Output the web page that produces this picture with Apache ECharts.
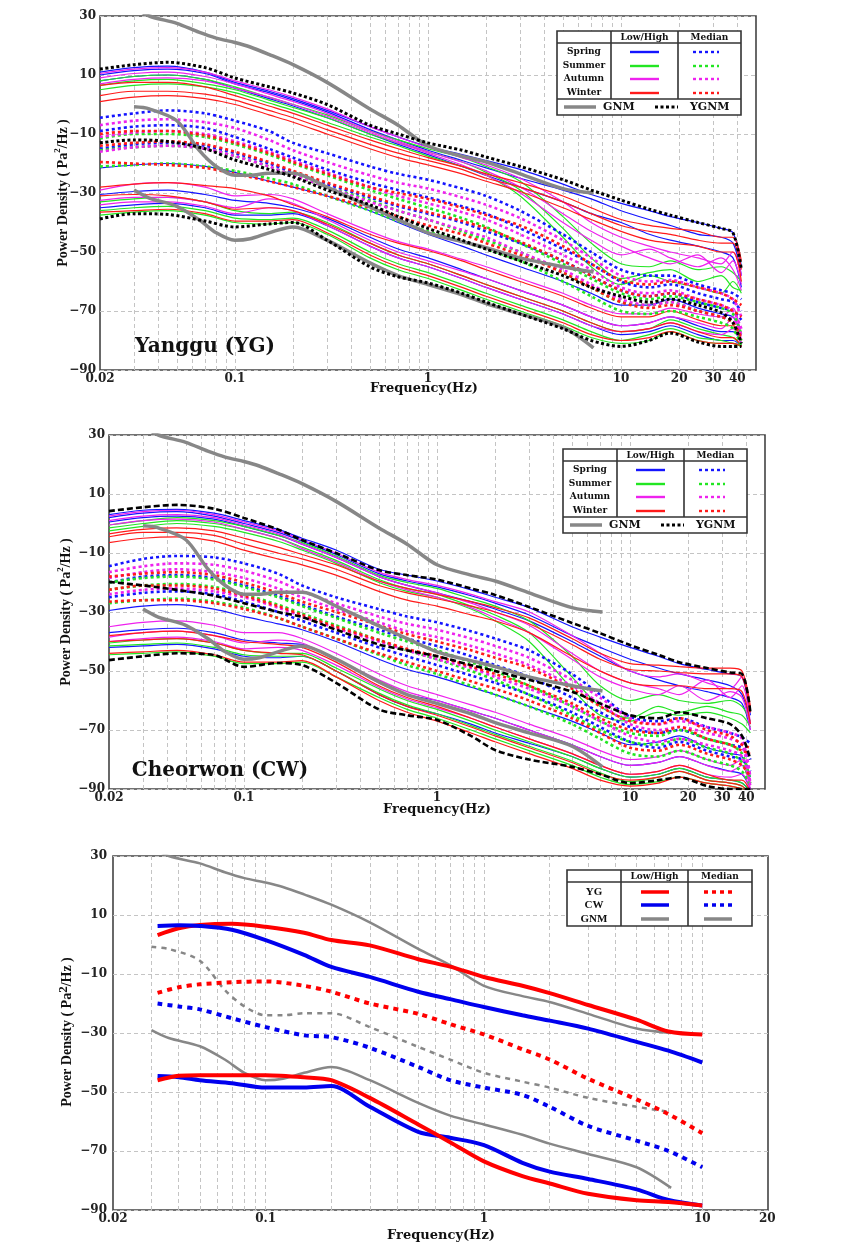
<!DOCTYPE html>
<html><head><meta charset="utf-8">
<script src="https://cdn.jsdelivr.net/npm/echarts@6/dist/echarts.min.js"></script>
<style>html,body{margin:0;padding:0;background:#fff}#c{width:863px;height:1256px}</style>
</head><body><div id="c"></div><script>
// ---------- frequency grids ----------
const freq = [0.02,0.03,0.045,0.07,0.1,0.15,0.2,0.3,0.5,0.7,1,1.5,2,3,5,7,10,14,18,25,33,38,42];
const gnmFreq = [0.03,0.036,0.05,0.065,0.08,0.1,0.12,0.15,0.2,0.3,0.5,0.7,1,1.5,2,3,5,7.2];
const freq3 = [0.032,0.04,0.05,0.07,0.1,0.15,0.2,0.3,0.5,0.7,1,1.5,2,3,5,7,10];

// ---------- GNM (same in all panels) ----------
const gnmHigh   = [33,30,27.5,24.5,22.5,21,19.5,17,13.5,7.5,-1.5,-7,-14,-17.5,-19.5,-23.5,-28.5,-30];
const gnmMedian = [-0.8,-1.5,-5.5,-15.4,-21,-24,-24,-23.3,-23.3,-28,-34.7,-39,-43.5,-46.5,-48.5,-52,-55,-56.8];
const gnmLow    = [-29,-31.7,-34.5,-39,-43.5,-46,-45.5,-43.5,-41.5,-46,-53.7,-58,-61,-64.5,-67.5,-71,-75.5,-82.5];

// ---------- Yanggu (YG) ----------
const ygnmHighYG   = [12,13.5,14.3,12.5,9,6,3.9,0,-7,-10,-13,-15.5,-17.8,-21,-25.5,-29,-32.4,-35.5,-37.5,-40,-42,-43.5,-56];
const ygnmMedianYG = [-13,-12,-12.5,-15,-18.8,-22,-24.5,-29,-34,-38,-42,-46,-49,-53,-58,-62,-65,-67,-66,-68,-70.5,-74,-81];
const ygnmLowYG    = [-38.8,-37,-37.3,-39.5,-41.5,-40.5,-40,-46,-55,-58.4,-60.5,-64,-67,-71,-76,-80,-82,-80,-77.5,-80.5,-82,-82,-82];

const ygHighSpring = [
 [11,12.5,13,11,7.5,4.5,2,-2,-7.5,-11,-14.3,-17,-19,-22,-27,-30.5,-33.5,-36,-38,-40,-42,-43.5,-55],
 [10,11.5,12,10.5,7,4,1.5,-2.5,-8.5,-12,-15.5,-19,-21.5,-25,-29,-32,-36,-39,-41,-44,-45,-47,-58],
 [8,9.5,10,8.5,5.5,2,-0.5,-4.5,-10,-13.5,-17,-21,-24,-28,-33,-37,-40,-44,-46,-48,-50,-52,-62]];
const ygHighSummer = [
 [8,9.5,10,8.5,6,2.5,0,-3.5,-9,-12,-15,-18,-21,-26,-38,-47,-54,-55,-53,-56,-55,-57,-60],
 [6.5,8,8.5,7,5,1.5,-1,-4.5,-10,-13,-16,-19.5,-23,-29,-42,-52,-59,-57,-56,-60,-58,-62,-63],
 [5,6.5,7,6,4,0.5,-2,-6,-11,-14,-17.5,-21,-24,-31,-45,-55,-61,-58,-60,-62,-64,-60,-64]];
const ygHighAutumn = [
 [10.5,12,12.5,11,8,5,2.5,-1.5,-7.5,-11,-14.5,-18,-20.5,-25,-33,-40,-45,-48,-50,-52,-54,-50,-58],
 [9,10.5,11,9.5,7,3.5,1,-3,-9,-12.5,-16,-19.5,-22.5,-28,-37,-43,-48,-52,-54,-51,-57,-53,-61],
 [7,8.5,9,8,5.5,2.5,0,-4,-9.5,-13,-16.5,-20.5,-24,-30,-40,-46,-51,-49,-52,-55,-52,-56,-63]];
const ygHighWinter = [
 [6.5,7.5,7.5,6,3,-0.5,-3,-7,-12,-15,-18,-21,-23.5,-26.5,-31,-35,-39,-41,-42,-43,-45,-45,-53],
 [3,4.5,4.5,3.5,1.5,-2,-4.5,-8.5,-13.5,-16.5,-19,-22,-25,-28,-33,-37,-41,-43,-44,-46,-47,-47,-56],
 [1,2.5,3,2,0,-3.5,-6,-10,-15,-18,-20.5,-23.5,-26,-29.5,-35,-39,-43,-46,-47,-48,-50,-50,-60]];

const ygMedSpring = [
 [-4.5,-3,-2,-3,-5.5,-9,-13,-16.5,-21,-23.5,-25.5,-28.5,-31,-36,-44,-50,-56,-58,-58,-61,-63,-64,-66],
 [-9,-7.5,-7,-8,-11,-15,-18,-22,-26.5,-29,-31.5,-34.5,-37,-42,-49,-54,-60,-62,-61,-64,-66,-67,-70],
 [-15,-13.5,-13,-14,-16.5,-20,-23,-27,-31.5,-34.5,-37,-40,-43,-47,-53,-58,-63,-65,-64,-67,-69,-70,-73]];
const ygMedSummer = [
 [-11.5,-10,-10,-11,-13.5,-17,-20,-24,-29,-32,-35,-38.5,-41.5,-47,-54,-59,-64,-66,-65,-67,-69,-71,-78],
 [-15.5,-14.5,-14,-15,-17.5,-21,-24,-28,-32.5,-36,-39,-43,-46,-50,-57,-62,-67,-68,-67,-70,-72,-74,-80],
 [-21,-20.5,-20,-21,-22.5,-25,-27,-31,-36,-39.5,-43,-46.5,-49,-53,-60,-65,-70,-71,-70,-72,-74,-76,-82]];
const ygMedAutumn = [
 [-7,-5.5,-5,-6,-8,-12,-15.5,-19.5,-24,-26.5,-28.5,-31.5,-34,-38.5,-46,-52,-58,-60,-59.5,-62,-64,-66,-72],
 [-11,-9.5,-9,-10,-12.5,-16,-19,-23,-28,-31,-33.5,-36.5,-39,-44,-51,-56,-62,-64,-63,-66,-68,-70,-76],
 [-16,-14.5,-14,-15,-17.5,-21,-24,-28,-33,-36,-39,-42.5,-45,-50,-56,-61,-66,-68,-67,-70,-72,-73,-78]];
const ygMedWinter = [
 [-10,-9,-9,-10.5,-13,-16.5,-19.5,-23.5,-28,-30,-32,-35,-37.5,-41,-48,-54,-59.5,-61,-60,-62,-64,-66,-68],
 [-14,-13,-12.5,-13.5,-16,-19.5,-22.5,-26.5,-31,-34,-36.5,-39.5,-42,-46.5,-53,-58,-63,-65,-64,-66,-68,-70,-72],
 [-19.5,-20,-20.5,-21.5,-23.5,-26,-28,-31,-35,-38,-41,-44,-47,-51,-57,-62,-67,-69,-68,-70,-72,-74,-79]];

const ygLowSpring = [
 [-21.5,-20.5,-20,-21,-23,-26,-28,-31,-36,-40,-44,-48,-51,-55,-60,-64,-68,-68,-66,-69,-71,-72,-78],
 [-30.5,-29.5,-29,-30.5,-32.5,-33.5,-35,-38.5,-45,-49,-52,-56,-59,-63,-68,-72,-75,-74,-72,-75,-77,-77,-81],
 [-35,-34,-33.5,-35,-37.5,-37.5,-37,-41,-48,-52,-55,-59,-62,-66,-71,-75,-78,-77,-75,-78,-80,-80,-82]];
const ygLowSummer = [
 [-33,-32,-31.5,-33,-36,-37,-36.5,-40,-47,-51,-54,-58,-61,-65,-70,-74,-77,-76,-73,-76,-78,-79,-82],
 [-36,-35,-34.5,-36,-38.5,-39,-38.5,-42.5,-50,-54,-57,-61,-64,-68,-73,-77,-80,-78,-76,-79,-80,-81,-82],
 [-37.5,-36.5,-36,-37.5,-40,-40.5,-40,-44,-52,-56,-59,-63,-66,-70,-75,-79,-81,-80,-77,-80,-81,-81,-82]];
const ygLowAutumn = [
 [-29,-27,-26.5,-28,-31,-30.5,-32,-37,-43,-46.5,-49,-52.5,-55,-59,-64,-68,-71,-71,-69,-71,-72,-69,-80],
 [-32.5,-31.5,-31.5,-33,-35,-32,-33.5,-39,-46,-50,-53,-56.5,-59,-63,-68,-72,-75,-74,-72,-74,-76,-72,-81],
 [-34,-33,-33,-34.5,-37,-35,-36,-41,-48,-52,-55,-59,-62,-66,-71,-75,-77,-76,-74,-77,-78,-76,-82]];
const ygLowWinter = [
 [-28,-27,-26.5,-27.5,-28.5,-31,-34,-38,-44,-47,-49.5,-53,-56,-60,-65,-69,-72,-72,-70,-73,-75,-75,-80],
 [-31,-30.5,-31,-33,-35.5,-35,-36,-40.5,-47,-51,-54,-58,-61,-65,-70,-74,-77,-76,-74,-77,-79,-79,-82],
 [-36.5,-36,-35.5,-37,-39.5,-39.5,-39,-43.5,-51,-55,-58,-62,-65,-69,-74,-78,-80,-79,-77,-80,-81,-81,-82]];

// ---------- Cheorwon (CW) ----------
const ygnmHighCW   = [4.2,5.5,6.3,5,1.9,-2,-5.6,-10,-15.8,-17.5,-19,-22,-24.2,-28.3,-33.7,-37.2,-41.2,-44.5,-47,-49,-50.5,-51,-64];
const ygnmMedianCW = [-19.8,-21,-22.5,-24.5,-27,-30,-31.7,-36,-41,-43,-45,-48,-50,-53,-57,-61,-65,-66,-64,-66,-68,-72,-80];
const ygnmLowCW    = [-46.3,-45,-44,-44.6,-48.6,-47.3,-48,-54,-63,-65,-66.6,-72,-76.8,-80,-82.5,-85,-88,-87,-86,-89,-90,-90,-90];

const cwHighSpring = [
 [3,4.5,4.8,3.5,1,-2,-5,-9,-15.5,-17.5,-19.5,-22.5,-25,-28.5,-35,-38.5,-42,-45,-47.5,-49.5,-51,-52,-65],
 [2,3.5,4,2.5,0,-3,-6,-10.5,-17,-19.5,-21.5,-24.5,-27,-31,-38,-42,-46,-49,-51,-53,-55,-58,-68],
 [0.5,2,2.5,1.5,-1,-4,-7,-11.5,-18,-21,-23.5,-26.5,-29,-33,-40,-45,-50,-53,-55,-57,-59,-61,-70]];
const cwHighSummer = [
 [-0.5,1,2,1,-1,-4,-6.5,-11,-17.5,-20,-22,-25.5,-28,-33,-45,-55,-60,-58,-60,-61,-60,-62,-67],
 [-1.5,0,1,0,-2,-5,-8,-12.5,-19,-22,-24,-28,-31,-37,-52,-62,-66,-62,-64,-62,-64,-65,-69],
 [-2.5,-1,0,-1,-3,-6,-9,-13.5,-20,-23,-25,-29,-33,-40,-56,-65,-67,-64,-65,-64,-66,-68,-71]];
const cwHighAutumn = [
 [2.5,4,4.5,3,0.5,-2.5,-5.5,-10,-16.5,-19,-21,-24,-26.5,-30,-38,-44,-50,-52,-51,-54,-56,-52,-64],
 [1,2.5,3,2,-0.5,-3.5,-7,-11.5,-18,-21,-23.5,-27,-30,-34.5,-44,-50,-54,-56,-58,-53,-59,-55,-68],
 [-0.5,1,1.5,0.5,-2,-5,-8.5,-13,-19.5,-22.5,-25,-28.5,-32,-37,-46,-52,-56,-58,-55,-60,-57,-59,-70]];
const cwHighWinter = [
 [-3.5,-2,-1.5,-2.5,-5,-8,-10.5,-14,-19.5,-22,-24,-26.5,-28.5,-32,-39,-44,-47.5,-48,-48.5,-49,-49,-50,-62],
 [-4.5,-3,-3,-4,-7,-10,-12,-15.5,-21,-23.5,-25.5,-28,-30,-34,-41,-46,-49.5,-50,-50.5,-51,-51,-52,-64],
 [-6.5,-5,-4.5,-6,-9,-12,-14,-17.5,-23,-26,-28,-31,-33,-37,-45,-50,-54,-55,-55,-56,-56,-57,-68]];

const cwMedSpring = [
 [-14.5,-12,-11,-11.5,-13.5,-17,-21,-25,-29,-31.5,-33.5,-36.5,-39,-43,-51,-58,-65.5,-67,-66,-69,-71,-72.5,-74.5],
 [-20,-18,-17.5,-18.5,-21,-24.5,-27.5,-31.5,-36,-39,-41.5,-45,-48,-52,-59,-64,-69,-71,-70,-73,-75,-76,-80],
 [-25,-23.5,-23,-24,-26.5,-30,-33,-37,-42,-45,-48,-51.5,-54,-58,-64,-69,-74,-76,-74,-77,-79,-80,-84]];
const cwMedSummer = [
 [-20,-18.5,-18,-19,-21.5,-25,-28,-32,-37,-40,-43,-47,-50,-55,-62,-67,-71,-72,-70,-73,-75,-78,-87],
 [-22.5,-21,-20.5,-21.5,-24,-27.5,-30.5,-34.5,-39.5,-43,-46,-50,-53,-58,-65,-70,-74,-75,-73,-76,-78,-81,-88],
 [-27,-26,-25.5,-26.5,-28.5,-32,-35,-39,-44.5,-48,-51,-55,-58,-62,-68,-73,-78,-79,-77,-80,-82,-84,-89]];
const cwMedAutumn = [
 [-16.5,-14.5,-13.5,-14,-16,-19.5,-23,-27,-31.5,-34,-36,-39,-41.5,-45.5,-53,-59,-66,-68,-67,-69,-71,-73,-86],
 [-18.5,-16.5,-15.5,-16.5,-18.5,-22,-25,-29,-33.5,-36.5,-38.5,-41.5,-44,-48,-55,-61,-68,-70,-69,-71,-73,-75,-88],
 [-24,-22.5,-22,-23,-25,-28.5,-31.5,-35.5,-40,-43,-46,-49,-52,-56,-62,-67,-72,-74,-73,-75,-77,-79,-89]];
const cwMedWinter = [
 [-18,-17,-16.5,-17.5,-20,-23.5,-26.5,-30,-34.5,-37.5,-40,-43,-45.5,-49,-56,-62,-67,-68,-66,-70,-72,-75,-76],
 [-22.5,-21,-21,-22,-24.5,-28,-31,-35,-39.5,-42.5,-45,-48.5,-51,-55,-61,-66,-70,-71,-69,-73,-75,-77,-78],
 [-26.5,-26,-26,-27,-29,-32,-35,-39,-44,-47,-50,-53.5,-56,-60,-66,-71,-76,-77,-75,-78,-80,-82,-86]];

const cwLowSpring = [
 [-29.5,-28,-27.5,-29,-31.5,-34,-36,-40,-46,-49.5,-52,-55.5,-58,-62,-67,-71,-75,-74,-72,-76,-78,-79,-86],
 [-37,-36,-35.5,-37,-39.5,-40.5,-41,-46,-54,-58,-60,-63.5,-66,-70,-75,-79,-82,-81,-79,-82,-84,-85,-90],
 [-42,-41.5,-41,-42.5,-45,-45.5,-45,-50,-58,-62,-64.5,-68,-71,-74.5,-79,-83,-86,-85,-83,-86,-87,-88,-91]];
const cwLowSummer = [
 [-40.5,-39.5,-39,-40.5,-43,-44,-44,-49,-56,-60,-63,-67,-70,-74,-79,-83,-86,-85,-83,-86,-87,-88,-91],
 [-41.5,-41,-40.5,-42,-44.5,-45,-45,-50,-57.5,-61.5,-64.5,-68.5,-71.5,-75.5,-80.5,-84.5,-87.5,-86,-84,-87,-88,-89,-92],
 [-44.5,-44,-43.5,-45,-47.5,-47.5,-47,-52,-59,-63,-66,-70,-73,-77,-82,-86,-88.5,-87.5,-86,-88,-89,-90,-92]];
const cwLowAutumn = [
 [-35,-33.5,-33,-34.5,-37,-37,-39,-44,-51,-55,-58,-61.5,-64,-68,-73,-77,-80,-79,-77,-80,-82,-80,-88],
 [-38.5,-37,-36.5,-38,-40.5,-39.5,-40.5,-46,-53,-57,-60,-63.5,-66,-70,-75,-79,-82,-81,-79,-82,-84,-82,-90],
 [-40,-39,-38.5,-40,-42.5,-42,-43,-48,-55.5,-59.5,-62.5,-66,-69,-73,-78,-82,-85,-84,-82,-85,-86,-85,-91]];
const cwLowWinter = [
 [-38,-37,-36.5,-38,-40,-41,-42,-47,-55,-59,-62,-66,-69,-73,-78,-82,-85,-84,-82,-85,-87,-87,-91],
 [-40,-39.5,-39,-40.5,-43,-44,-44.5,-50,-58,-62,-65,-69,-72,-76,-81,-85,-87,-86,-84,-87,-88,-89,-92],
 [-44,-43.5,-43,-44.5,-47,-47,-46.5,-52,-60,-64,-67,-71,-74,-78,-83,-87,-89,-88,-86,-88,-89,-90,-92]];

// ---------- comparison panel ----------
const ygHigh3 = [3.2,5.5,6.6,7,6,4,1.5,-0.3,-5,-7.5,-11,-14,-16.5,-20.5,-25.5,-29.5,-30.5];
const cwHigh3 = [6.3,6.5,6.3,5,1.5,-3.5,-7.6,-11,-16,-18.5,-21.2,-24,-25.8,-28.5,-33,-36,-40];
const ygMed3  = [-16.4,-14.5,-13.5,-12.8,-12.5,-14,-16,-20,-23.5,-27,-30.5,-35.5,-39,-45.5,-52.5,-57.5,-64];
const cwMed3  = [-20,-21,-22,-25,-28,-30.8,-31.4,-35,-41.5,-46,-48.5,-51,-55,-61.5,-66.5,-70,-75.5];
const ygLow3  = [-46,-44.5,-44.3,-44.3,-44.3,-45,-46,-52,-61,-67,-73.5,-78.5,-81,-84.5,-86.7,-87.3,-88.5];
const cwLow3  = [-44.6,-45,-46,-47,-48.5,-48.5,-48,-55,-63.5,-65.5,-68,-74,-77,-79.5,-83,-86.6,-88.5];

// ---------- axis tick labels / grid lines ----------
const yTicks = [-90,-70,-50,-30,-10,10,30];
const vLines12 = [0.03,0.04,0.05,0.06,0.07,0.08,0.09,0.1,0.2,0.3,0.4,0.5,0.6,0.7,0.8,0.9,1,2,3,4,5,6,7,8,9,10,20,30,40];
const vLines3  = [0.03,0.04,0.05,0.06,0.07,0.08,0.09,0.1,0.2,0.3,0.4,0.5,0.6,0.7,0.8,0.9,1,2,3,4,5,6,7,8,9,10];
const xLabels12 = ['0.02','0.1','1','10','20','30','40'];
const xLabels3  = ['0.02','0.1','1','10','20'];

// ---------- styles ----------
const C = {spring:'#1414ff', summer:'#22e622', autumn:'#ee22ee', winter:'#ff1a1a', gray:'#878787', black:'#000'};
const SERIF = 'DejaVu Serif';
const TNR = 'Liberation Serif';

const chart = echarts.init(document.getElementById('c'), null, {renderer:'canvas'});

function mk(gi, fr, vals, color, width, dash, z) {
  return {type:'line', xAxisIndex:gi, yAxisIndex:gi, data: fr.map((f,i)=>[f, vals[i]]),
    symbol:'none', showSymbol:false, smooth:0.3, silent:true, animation:false, z: z||2,
    lineStyle:{color:color, width:width, type: dash||'solid'}};
}
function gridSeries(gi, vals, labels, minV, maxV) {
  const data = vals.map(v => {
    const lab = labels.indexOf(String(v)) >= 0;
    return {xAxis:v, label:{show:lab, formatter:String(v)}};
  });
  const hidden = {color:'rgba(255,255,255,0)', width:0.01, opacity:1};
  data.push({xAxis:minV, lineStyle:hidden, label:{show:true, formatter:'0.02', color:'#222', opacity:1}});
  if (labels.indexOf('20') >= 0 && vals.indexOf(20) < 0) data.push({xAxis:maxV, lineStyle:hidden, label:{show:true, formatter:'20', color:'#222', opacity:1}});
  return {type:'line', xAxisIndex:gi, yAxisIndex:gi, data:[], silent:true, animation:false,
    markLine:{silent:true, symbol:['none','none'], z:1, animation:false,
      lineStyle:{type:[4,3], color:'#c4c4c4', width:1},
      label:{show:false, position:'start', distance:3, fontFamily:SERIF, fontWeight:'bold', fontSize:12, color:'#222'},
      data:data}};
}

const series = [];
series.push(gridSeries(0, vLines12, xLabels12, 0.0202, 49.8));
series.push(gridSeries(1, vLines12, xLabels12, 0.0202, 49.8));
series.push(gridSeries(2, vLines3, xLabels3, 0.0202, 19.85));

function seasonPanel(gi, groups) {
  const order = ['low','med','high'];
  order.forEach(kind => {
    groups.filter(g => g.kind === kind).forEach(g => {
      g.arr.forEach(vals => {
        if (kind === 'med') series.push(mk(gi, freq, vals, g.color, 2.6, [3,3], 3));
        else series.push(mk(gi, freq, vals, g.color, 1.2, 'solid', 2));
      });
    });
  });
}
seasonPanel(0, [
  {kind:'high', color:C.spring, arr:ygHighSpring},{kind:'high', color:C.summer, arr:ygHighSummer},
  {kind:'high', color:C.autumn, arr:ygHighAutumn},{kind:'high', color:C.winter, arr:ygHighWinter},
  {kind:'med', color:C.spring, arr:ygMedSpring},{kind:'med', color:C.summer, arr:ygMedSummer},
  {kind:'med', color:C.autumn, arr:ygMedAutumn},{kind:'med', color:C.winter, arr:ygMedWinter},
  {kind:'low', color:C.spring, arr:ygLowSpring},{kind:'low', color:C.summer, arr:ygLowSummer},
  {kind:'low', color:C.autumn, arr:ygLowAutumn},{kind:'low', color:C.winter, arr:ygLowWinter}]);
seasonPanel(1, [
  {kind:'high', color:C.spring, arr:cwHighSpring},{kind:'high', color:C.summer, arr:cwHighSummer},
  {kind:'high', color:C.autumn, arr:cwHighAutumn},{kind:'high', color:C.winter, arr:cwHighWinter},
  {kind:'med', color:C.spring, arr:cwMedSpring},{kind:'med', color:C.summer, arr:cwMedSummer},
  {kind:'med', color:C.autumn, arr:cwMedAutumn},{kind:'med', color:C.winter, arr:cwMedWinter},
  {kind:'low', color:C.spring, arr:cwLowSpring},{kind:'low', color:C.summer, arr:cwLowSummer},
  {kind:'low', color:C.autumn, arr:cwLowAutumn},{kind:'low', color:C.winter, arr:cwLowWinter}]);

[0,1].forEach(gi => {
  [gnmHigh, gnmMedian, gnmLow].forEach(v => series.push(mk(gi, gnmFreq, v, C.gray, 3.5, 'solid', 4)));
});
[ygnmHighYG, ygnmMedianYG, ygnmLowYG].forEach(v => series.push(mk(0, freq, v, C.black, 3, [3,2.5], 5)));
[ygnmHighCW, ygnmMedianCW, ygnmLowCW].forEach(v => series.push(mk(1, freq, v, C.black, 2.6, [6,3], 5)));

// panel 3
series.push(mk(2, gnmFreq, gnmHigh, C.gray, 2.5, 'solid', 3));
series.push(mk(2, gnmFreq, gnmMedian, C.gray, 2.5, [5,5], 3));
series.push(mk(2, gnmFreq, gnmLow, C.gray, 2.5, 'solid', 3));
series.push(mk(2, freq3, ygHigh3, '#ff0000', 4, 'solid', 4));
series.push(mk(2, freq3, cwHigh3, '#0000ee', 4, 'solid', 4));
series.push(mk(2, freq3, ygMed3, '#ff0000', 4, [5,5], 4));
series.push(mk(2, freq3, cwMed3, '#0000ee', 4, [5,5], 4));
series.push(mk(2, freq3, cwLow3, '#0000ee', 4, 'solid', 4));
series.push(mk(2, freq3, ygLow3, '#ff0000', 4, 'solid', 4));

const grids = [
  {left:100, top:16, width:656, height:354},
  {left:109, top:435, width:656, height:354},
  {left:113, top:856, width:655, height:354}];
const xMax = [50,50,20];
const yMargins = [4,4,6];

// ---------- graphic (legends, titles, axis names) ----------
const G = [];
function T(x,y,text,size,opt){ opt=opt||{}; G.push({type:'text', z:100, x:x, y:y, rotation:opt.rot||0,
  style:{text:text, fontFamily:opt.family||SERIF, fontWeight:opt.weight||'bold', fontSize:size, fill:opt.fill||'#111',
  align:opt.align||'center', verticalAlign:'middle', textAlign:opt.align||'center', textVerticalAlign:'middle', rich:opt.rich}}); }
function L(x1,y1,x2,y2,stroke,w,dash){ G.push({type:'line', z:100, shape:{x1,y1,x2,y2}, style:{stroke:stroke, lineWidth:w, lineDash:dash||null}}); }
function R(x,y,w,h){ G.push({type:'rect', z:99, shape:{x,y,width:w,height:h}, style:{fill:'#fff', stroke:'#333', lineWidth:1.6}}); }

function seasonLegend(x0,y0,ygnmDash){
  R(x0,y0,184,84);
  L(x0+54,y0,x0+54,y0+68,'#333',1.6); L(x0+121,y0,x0+121,y0+68,'#333',1.6);
  L(x0,y0+12,x0+184,y0+12,'#333',1.6); L(x0,y0+68,x0+184,y0+68,'#333',1.6);
  T(x0+87.5,y0+6.5,'Low/High',9); T(x0+152.5,y0+6.5,'Median',9);
  const names=['Spring','Summer','Autumn','Winter'], cols=[C.spring,C.summer,C.autumn,C.winter], dy=[21,35,48,62];
  names.forEach((n,i)=>{ T(x0+27,y0+dy[i],n,9);
    L(x0+73,y0+dy[i],x0+102,y0+dy[i],cols[i],2.4);
    L(x0+136,y0+dy[i],x0+162,y0+dy[i],cols[i],2.4,[3,3]); });
  L(x0+7,y0+76,x0+39,y0+76,C.gray,3.5); T(x0+46,y0+76,'GNM',11,{align:'left'});
  L(x0+98,y0+76,x0+121,y0+76,'#000',3,ygnmDash); T(x0+133,y0+76,'YGNM',11,{align:'left'});
}
seasonLegend(557,31,[3,2.5]);
seasonLegend(563,449,[3,2.5]);

(function(){ const x0=567,y0=870;
  R(x0,y0,185,56);
  L(x0+54,y0,x0+54,y0+56,'#333',1.6); L(x0+121,y0,x0+121,y0+56,'#333',1.6);
  L(x0,y0+12,x0+185,y0+12,'#333',1.6);
  T(x0+87.5,y0+6.5,'Low/High',9); T(x0+153,y0+6.5,'Median',9);
  const names=['YG','CW','GNM'], cols=['#ff0000','#0000ee',C.gray], dy=[22,35,49];
  names.forEach((n,i)=>{ T(x0+27,y0+dy[i],n,11,{family:TNR});
    L(x0+74,y0+dy[i],x0+102,y0+dy[i],cols[i],3.5);
    L(x0+137,y0+dy[i],x0+165,y0+dy[i],cols[i],3.5, i<2?[4,4]:null); });
})();

T(205,347,'Yanggu (YG)',20);
T(220,771,'Cheorwon (CW)',20);
T(424,389,'Frequency(Hz)',13);
T(437,810,'Frequency(Hz)',13);
T(441,1236,'Frequency(Hz)',13);
const yNameRich = (sup)=>({a:{fontFamily:TNR, fontWeight:'bold', fontSize:14, lineHeight:20, verticalAlign:'middle', fill:'#111'},
                           s:{fontFamily:TNR, fontWeight:'bold', fontSize:sup, lineHeight:20, verticalAlign:'top', fill:'#111'}});
const yName = '{a|Power Density ( Pa}{s|2}{a|/Hz )}';
T(63,193,yName,14,{rot:Math.PI/2, rich:yNameRich(9)});
T(66,612,yName,14,{rot:Math.PI/2, rich:yNameRich(9)});
T(67,1032,yName,14,{rot:Math.PI/2, rich:yNameRich(13)});

chart.setOption({
  animation:false,
  backgroundColor:'#fff',
  grid: grids.map(g => Object.assign({show:true, borderColor:'#444', borderWidth:1.6, backgroundColor:'transparent', containLabel:false}, g)),
  xAxis: grids.map((g,i) => ({gridIndex:i, type:'log', logBase:10, min:0.02, max:xMax[i],
    axisLine:{show:false}, axisTick:{show:false}, axisLabel:{show:false}, splitLine:{show:false}})),
  yAxis: grids.map((g,i) => ({gridIndex:i, type:'value', min:yTicks[0], max:yTicks[yTicks.length-1], interval:20,
    axisLine:{show:false}, axisTick:{show:false},
    axisLabel:{margin:yMargins[i], fontFamily:SERIF, fontWeight:'bold', fontSize:12, color:'#222',
      formatter: v => (v<0?'\u2212':'') + Math.abs(v)},
    splitLine:{show:true, lineStyle:{type:[4,3], color:'#c4c4c4', width:1}}})),
  series: series,
  graphic: {elements: G}
});
</script></body></html>
